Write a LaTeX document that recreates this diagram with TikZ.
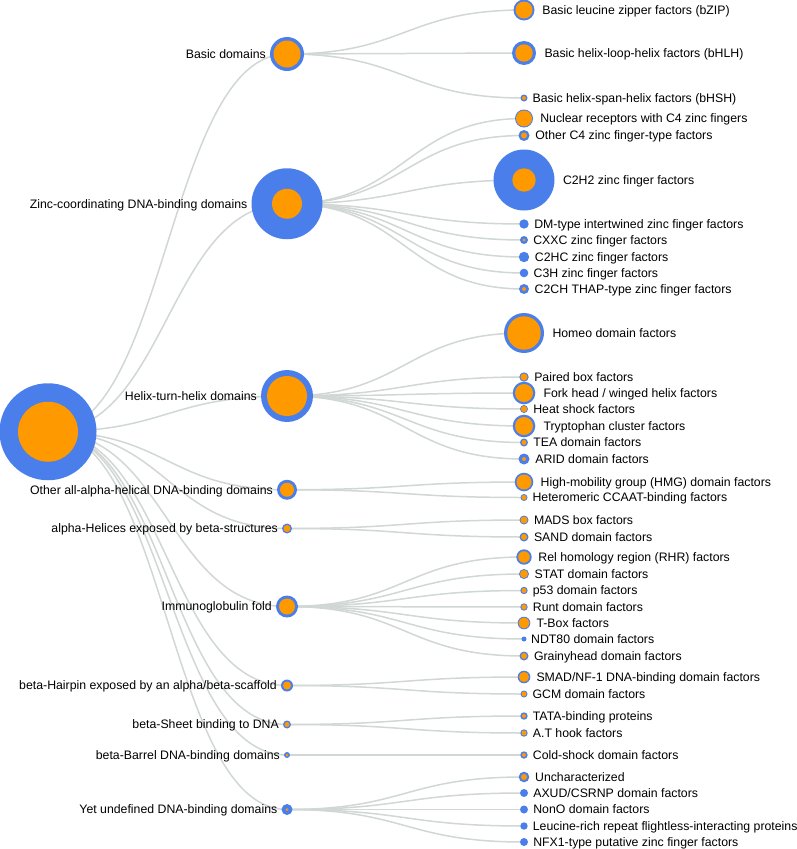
\documentclass[tikz,border=0pt]{standalone}
\usepackage{fontspec}
\setmainfont{Liberation Sans}
\usetikzlibrary{positioning, backgrounds}

\definecolor{tfblue}{RGB}{74,127,235}
\definecolor{tforange}{RGB}{255,153,0}
\definecolor{linkgrey}{RGB}{208,215,213}

\begin{document}
\begin{tikzpicture}
[
    x=1pt, y=-1pt, node distance=5pt,
    font=\fontsize{12.3}{14}\selectfont,
    % The nodes are named N-level-row
    % Root node is N-0-0, groups are N-1-0 ... N-1-9
    % Families are N-2-0 ... N-2-38, each with its orange core N-2-*-c
]

%=================================== Start ===================================
\tikzstyle{outer} = [circle, fill=tfblue, inner sep=0pt, outer sep=0pt, minimum size=#1]
\tikzstyle{core}  = [circle, fill=tforange, inner sep=0pt, outer sep=0pt, minimum size=#1]
\tikzstyle{lbl}   = [inner sep=0pt, text height=8.8pt, text depth=0pt]
\tikzstyle{link}  = [draw=linkgrey, line width=1.5pt]

\useasboundingbox (0,0) rectangle (796,849);
{
    % Root
    \node[outer=97] (N-0-0) at (48,431.75) {};
    \node[core=60] (N-0-0-c) at (N-0-0) {};

    % Draw groups, labels on the left
    \foreach \i / \y / \R / \r / \t in {
        0/54/17/13.5/{Basic domains},
        1/203.75/35.5/15/{Zinc-coordinating DNA-binding domains},
        2/396/26/20/{Helix-turn-helix domains},
        3/489.75/10/7/{Other all-alpha-helical DNA-binding domains},
        4/528.5/5/3.5/{alpha-Helices exposed by beta-structures},
        5/606.5/11/8/{Immunoglobulin fold},
        6/685.5/6/4/{beta-Hairpin exposed by an alpha/beta-scaffold},
        7/724.5/4/2.5/{beta-Sheet binding to DNA},
        8/755/3/1.5/{beta-Barrel DNA-binding domains},
        9/809.5/5.5/1.5/{Yet undefined DNA-binding domains}}
    {
        \node[outer=2*\R] (N-1-\i) at (287,\y) {};
        \node[core=2*\r] (N-1-\i-c) at (N-1-\i) {};
        \node[lbl, left=4pt of N-1-\i] (L-1-\i) {\t};
    }

    % Draw families, labels on the right
    \foreach \i / \p / \y / \R / \r / \t in {
        0/0/10/10.5/8.5/{Basic leucine zipper factors (bZIP)},
        1/0/53/12/8.7/{Basic helix-loop-helix factors (bHLH)},
        2/0/98/3.5/2/{Basic helix-span-helix factors (bHSH)},
        3/1/118.5/9/8/{Nuclear receptors with C4 zinc fingers},
        4/1/135.5/5.5/3/{Other C4 zinc finger-type factors},
        5/1/180/30.5/11.7/{C2H2 zinc finger factors},
        6/1/224/4.7/0/{DM-type intertwined zinc finger factors},
        7/1/240/4/1.5/{CXXC zinc finger factors},
        8/1/257/5.2/0/{C2HC zinc finger factors},
        9/1/273/4.3/0/{C3H zinc finger factors},
        10/1/289/5/2/{C2CH THAP-type zinc finger factors},
        11/2/333/20/16.7/{Homeo domain factors},
        12/2/377/4.7/3.5/{Paired box factors},
        13/2/393/11.3/9/{Fork head / winged helix factors},
        14/2/409/4/3.2/{Heat shock factors},
        15/2/426/11.3/9/{Tryptophan cluster factors},
        16/2/442.5/4/2.5/{TEA domain factors},
        17/2/459/5.5/2/{ARID domain factors},
        18/3/482/9.3/7.5/{High-mobility group (HMG) domain factors},
        19/3/497.5/3.5/2.5/{Heteromeric CCAAT-binding factors},
        20/4/520/4.5/3.5/{MADS box factors},
        21/4/537/4.5/3/{SAND domain factors},
        22/5/557/7.7/5.8/{Rel homology region (RHR) factors},
        23/5/574/5/4/{STAT domain factors},
        24/5/590.5/3.7/2.5/{p53 domain factors},
        25/5/607/3.7/2.7/{Runt domain factors},
        26/5/623/6.3/5.5/{T-Box factors},
        27/5/639/2.5/0/{NDT80 domain factors},
        28/5/656/4.5/3/{Grainyhead domain factors},
        29/6/677/6.3/5/{SMAD/NF-1 DNA-binding domain factors},
        30/6/694/3.5/2.5/{GCM domain factors},
        31/7/716/3.7/2/{TATA-binding proteins},
        32/7/733/3.7/2.5/{A.T hook factors},
        33/8/755/3.7/2/{Cold-shock domain factors},
        34/9/777/5.3/3/{Uncharacterized},
        35/9/793/4/0/{AXUD/CSRNP domain factors},
        36/9/809.5/4/0/{NonO domain factors},
        37/9/826/3.7/0/{Leucine-rich repeat flightless-interacting proteins},
        38/9/842/4/0/{NFX1-type putative zinc finger factors}}
    {
        \pgfmathsetmacro\gap{3.5+0.4*min(\R,12)}
        \node[outer=2*\R] (N-2-\i) at (524,\y) {};
        \node[core=2*\r] (N-2-\i-c) at (N-2-\i) {};
        \node[lbl, right=\gap pt of N-2-\i] (L-2-\i) {\t};
        % link to the group, behind the circles
        \begin{pgfonlayer}{background}
            \path[link] (N-1-\p.center) .. controls ([xshift=118.5pt]N-1-\p.center)
                and ([xshift=-118.5pt]N-2-\i.center) .. (N-2-\i.center);
        \end{pgfonlayer}
    }

    % Connect root to the groups
    \begin{pgfonlayer}{background}
        \foreach \i in {0,...,9}
            \path[link] (N-0-0.center) .. controls ([xshift=119.5pt]N-0-0.center)
                and ([xshift=-119.5pt]N-1-\i.center) .. (N-1-\i.center);
    \end{pgfonlayer}
}
%==================================== END ====================================

\end{tikzpicture}
\end{document}
